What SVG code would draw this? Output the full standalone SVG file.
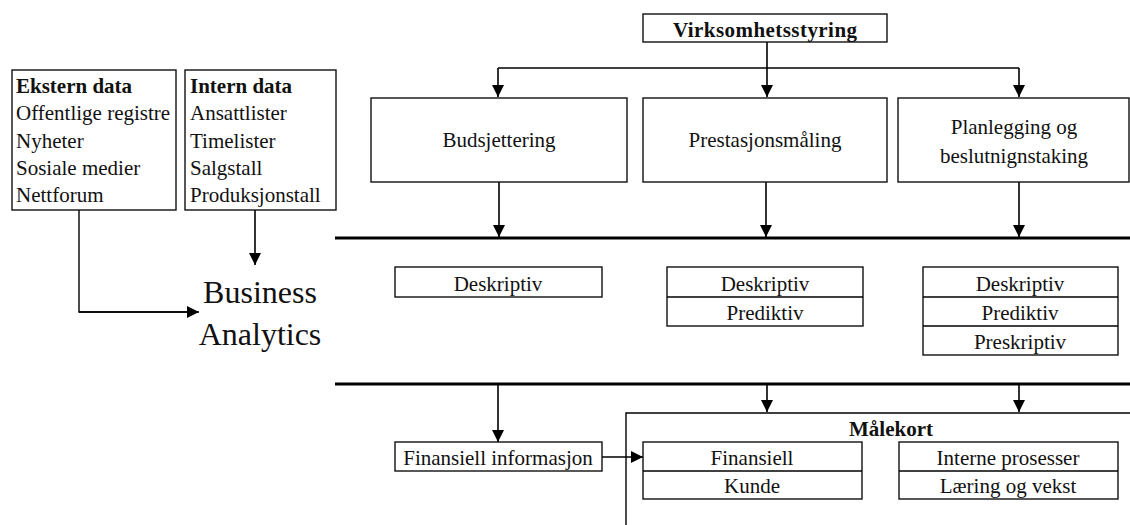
<svg xmlns="http://www.w3.org/2000/svg" width="1130" height="525" viewBox="0 0 1130 525">
<defs>
<marker id="ah" markerUnits="userSpaceOnUse" markerWidth="12" markerHeight="12" refX="12" refY="6" orient="auto">
<path d="M0,0 L12,6 L0,12 Z" fill="#000"/>
</marker>
<style>
.box{fill:#fff;stroke:#111;stroke-width:1.4}
.t{font-family:"Liberation Serif","Times New Roman",serif;font-size:21px;fill:#111}
.b{font-weight:bold}
.c{text-anchor:middle}
.ln{fill:none;stroke:#000;stroke-width:1.4}
.arr{fill:none;stroke:#000;stroke-width:1.6;marker-end:url(#ah)}
.thick{stroke:#000;stroke-width:3}
.ba{font-family:"Liberation Serif","Times New Roman",serif;font-size:32px;fill:#111;text-anchor:middle}
</style>
</defs>
<rect width="1130" height="525" fill="#fff"/>

<g id="connectors">
<path class="ln" d="M79,210 V312 H187"/>
<line class="arr" x1="79" y1="312" x2="199" y2="312"/>
<line class="arr" x1="255" y1="210" x2="255" y2="265"/>
<line class="arr" x1="767" y1="42" x2="767" y2="97"/>
<path class="ln" d="M498,68 H1019"/>
<line class="arr" x1="498" y1="68" x2="498" y2="97"/>
<line class="arr" x1="1019" y1="68" x2="1019" y2="97"/>
<line class="arr" x1="499" y1="182" x2="499" y2="237"/>
<line class="arr" x1="766" y1="182" x2="766" y2="237"/>
<line class="arr" x1="1019" y1="182" x2="1019" y2="237"/>
<line class="thick" x1="335" y1="238" x2="1130" y2="238"/>
<line class="thick" x1="335" y1="384" x2="1130" y2="384"/>
<line class="arr" x1="498" y1="385" x2="498" y2="442"/>
<line class="arr" x1="767" y1="385" x2="767" y2="412"/>
<line class="arr" x1="1019" y1="385" x2="1019" y2="412"/>
<line class="arr" x1="602" y1="457" x2="643" y2="457"/>
</g>

<g id="ekstern">
<rect class="box" x="12" y="70" width="164" height="140"/>
<text class="t b" x="16" y="93">Ekstern data</text>
<text class="t" x="16" y="120">Offentlige registre</text>
<text class="t" x="16" y="148">Nyheter</text>
<text class="t" x="16" y="175">Sosiale medier</text>
<text class="t" x="16" y="202">Nettforum</text>
</g>

<g id="intern">
<rect class="box" x="185" y="70" width="151" height="140"/>
<text class="t b" x="190" y="93">Intern data</text>
<text class="t" x="190" y="120">Ansattlister</text>
<text class="t" x="190" y="148">Timelister</text>
<text class="t" x="190" y="175">Salgstall</text>
<text class="t" x="190" y="202">Produksjonstall</text>
</g>

<g id="business-analytics">
<text class="ba" x="260" y="303">Business</text>
<text class="ba" x="260" y="345">Analytics</text>
</g>

<g id="virksomhetsstyring">
<rect class="box" x="643" y="14" width="244" height="28"/>
<text class="t b c" x="765" y="37" textLength="184" lengthAdjust="spacing">Virksomhetsstyring</text>
</g>

<g id="budsjettering">
<rect class="box" x="371" y="98" width="256" height="84"/>
<text class="t c" x="499" y="147">Budsjettering</text>
</g>

<g id="prestasjonsmaling">
<rect class="box" x="643" y="98" width="244" height="84"/>
<text class="t c" x="765" y="147">Prestasjonsmåling</text>
</g>

<g id="planlegging">
<rect class="box" x="898" y="98" width="231" height="84"/>
<text class="t c" x="1014" y="134">Planlegging og</text>
<text class="t c" x="1014" y="163">beslutnignstaking</text>
</g>

<g id="analyse-1">
<rect class="box" x="395" y="267" width="207" height="30"/>
<text class="t c" x="498" y="291">Deskriptiv</text>
</g>

<g id="analyse-2">
<rect class="box" x="667" y="267" width="196" height="59"/>
<line class="ln" x1="667" y1="297" x2="863" y2="297"/>
<text class="t c" x="765" y="291">Deskriptiv</text>
<text class="t c" x="765" y="320">Prediktiv</text>
</g>

<g id="analyse-3">
<rect class="box" x="923" y="267" width="195" height="88"/>
<line class="ln" x1="923" y1="297" x2="1118" y2="297"/>
<line class="ln" x1="923" y1="326" x2="1118" y2="326"/>
<text class="t c" x="1020" y="291">Deskriptiv</text>
<text class="t c" x="1020" y="320">Prediktiv</text>
<text class="t c" x="1020" y="349">Preskriptiv</text>
</g>

<g id="finansiell-informasjon">
<rect class="box" x="395" y="442" width="207" height="29"/>
<text class="t c" x="498" y="465">Finansiell informasjon</text>
</g>

<g id="malekort">
<path class="ln" d="M626,525 V413 H1131"/>
<text class="t b c" x="891" y="436">Målekort</text>
</g>

<g id="finansiell-kunde">
<rect class="box" x="643" y="442" width="219" height="57"/>
<line class="ln" x1="643" y1="471" x2="862" y2="471"/>
<text class="t c" x="752" y="465">Finansiell</text>
<text class="t c" x="752" y="493">Kunde</text>
</g>

<g id="interne-laering">
<rect class="box" x="899" y="442" width="219" height="57"/>
<line class="ln" x1="899" y1="471" x2="1118" y2="471"/>
<text class="t c" x="1008" y="465">Interne prosesser</text>
<text class="t c" x="1008" y="493">Læring og vekst</text>
</g>
</svg>
